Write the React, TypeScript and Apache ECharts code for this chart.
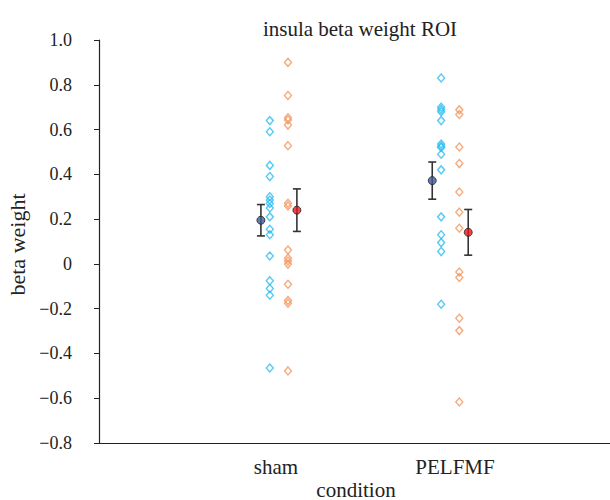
import React, { useEffect, useRef } from "react";
import * as echarts from "echarts";

const categories = ["sham", "PELFMF"];
const categoryLabelPositions = [0.983, 2.028];
const yTicks = [-0.8, -0.6, -0.4, -0.2, 0, 0.2, 0.4, 0.6, 0.8, 1.0];

// blue group individual values
const shamBlue = [0.64, 0.59, 0.44, 0.39, 0.3, 0.285, 0.27, 0.25, 0.21, 0.155, 0.13, 0.035, -0.075, -0.11, -0.14, -0.465];
const pelfmfBlue = [0.83, 0.7, 0.69, 0.68, 0.64, 0.535, 0.525, 0.52, 0.49, 0.42, 0.21, 0.13, 0.095, 0.055, -0.18];
// orange group individual values
const shamOrange = [0.9, 0.752, 0.653, 0.643, 0.62, 0.528, 0.271, 0.259, 0.062, 0.025, 0.013, -0.001, -0.091, -0.164, -0.176, -0.478];
const pelfmfOrange = [0.688, 0.667, 0.522, 0.448, 0.321, 0.231, 0.159, -0.036, -0.061, -0.243, -0.298, -0.617];

// means and error (half-widths)
const blueMeans = [0.195, 0.372];
const blueErr = [0.07, 0.083];
const redMeans = [0.24, 0.141];
const redErr = [0.095, 0.102];

const catX = [1, 2];
const scatterOffset = 0.053;
const meanOffset = 0.105;

const FONT = "Liberation Serif, Times New Roman, serif";

export default function App() {
  const ref = useRef<HTMLDivElement>(null);
  useEffect(() => {
    document.body.style.margin = "0";
    if (!ref.current) return;
    const chart = echarts.init(ref.current, undefined, { renderer: "svg" });

    const pts = (vals: number[], x: number) => vals.map((v) => [x, v]);
    const errData = (means: number[], errs: number[], off: number) =>
      means.map((m, i) => [catX[i] + off, m, m - errs[i], m + errs[i]]);

    const renderErr = (params: any, api: any) => {
      const x = api.value(0);
      const lo = api.coord([x, api.value(2)]);
      const hi = api.coord([x, api.value(3)]);
      const cap = 4;
      const style = { stroke: "#333", lineWidth: 1.6 };
      return {
        type: "group",
        children: [
          { type: "line", shape: { x1: lo[0], y1: lo[1], x2: hi[0], y2: hi[1] }, style },
          { type: "line", shape: { x1: lo[0] - cap, y1: lo[1], x2: lo[0] + cap, y2: lo[1] }, style },
          { type: "line", shape: { x1: hi[0] - cap, y1: hi[1], x2: hi[0] + cap, y2: hi[1] }, style },
        ],
      };
    };

    const diamond = (color: string) => ({
      symbol: "diamond",
      symbolSize: [7, 8],
      itemStyle: { color: "rgba(255,255,255,0)", borderColor: color, borderWidth: 1.4 },
    });

    chart.setOption({
      animation: false,
      backgroundColor: "#fff",
      title: {
        text: "insula beta weight ROI",
        left: 355,
        textAlign: "center",
        top: 13,
        textStyle: { fontFamily: FONT, fontWeight: "normal", fontSize: 21, color: "#222" },
      },
      grid: { left: 99, right: -3, top: 40, bottom: 57, outerBoundsMode: "none", containLabel: false },
      xAxis: {
        type: "value",
        min: -0.05,
        max: 2.95,
        name: "condition",
        nameLocation: "middle",
        nameGap: 36,
        nameMoveOverlap: false,
        nameTextStyle: { fontFamily: FONT, fontSize: 21, color: "#222" },
        axisLine: { show: true, onZero: false, lineStyle: { color: "#222", width: 1.2 } },
        axisTick: { show: false },
        splitLine: { show: false },
        axisLabel: {
          customValues: categoryLabelPositions,
          margin: 13,
          fontFamily: FONT,
          fontSize: 21,
          color: "#222",
          formatter: (v: number) => (v < 1.5 ? categories[0] : categories[1]),
        },
      },
      yAxis: {
        type: "value",
        min: yTicks[0],
        max: yTicks[yTicks.length - 1],
        interval: 0.2,
        name: "beta weight",
        nameLocation: "middle",
        nameGap: 67,
        nameTextStyle: { fontFamily: FONT, fontSize: 22, color: "#222", padding: [0, 6, 0, 0] },
        axisLine: { show: true, onZero: false, lineStyle: { color: "#222", width: 1.2 } },
        axisTick: { show: true, inside: false, length: 5, lineStyle: { color: "#222" } },
        splitLine: { show: false },
        axisLabel: {
          margin: 27,
          fontFamily: FONT,
          fontSize: 18,
          color: "#222",
          formatter: (v: number) => {
            const r = Math.round(v * 10) / 10;
            if (r === 0) return "0";
            return r < 0 ? "\u2212" + Math.abs(r).toFixed(1) : r.toFixed(1);
          },
        },
      },
      series: [
        { type: "scatter", name: "sham blue", data: pts(shamBlue, catX[0] - scatterOffset), ...diamond("#2bbdf0") },
        { type: "scatter", name: "PELFMF blue", data: pts(pelfmfBlue, catX[1] - scatterOffset), ...diamond("#2bbdf0") },
        { type: "scatter", name: "sham orange", data: pts(shamOrange, catX[0] + scatterOffset), ...diamond("#f4935a") },
        { type: "scatter", name: "PELFMF orange", data: pts(pelfmfOrange, catX[1] + scatterOffset), ...diamond("#f4935a") },
        { type: "custom", name: "blue err", renderItem: renderErr, data: errData(blueMeans, blueErr, -meanOffset), z: 3 },
        { type: "custom", name: "red err", renderItem: renderErr, data: errData(redMeans, redErr, meanOffset), z: 3 },
        {
          type: "scatter",
          name: "blue mean",
          z: 5,
          symbol: "circle",
          symbolSize: 8,
          itemStyle: { color: "#3c5a98", borderColor: "#222", borderWidth: 1 },
          data: blueMeans.map((m, i) => [catX[i] - meanOffset, m]),
        },
        {
          type: "scatter",
          name: "red mean",
          z: 5,
          symbol: "circle",
          symbolSize: 8,
          itemStyle: { color: "#e5161c", borderColor: "#222", borderWidth: 1 },
          data: redMeans.map((m, i) => [catX[i] + meanOffset, m]),
        },
      ],
    });
    return () => chart.dispose();
  }, []);
  return <div ref={ref} style={{ width: 610, height: 500 }} />;
}
